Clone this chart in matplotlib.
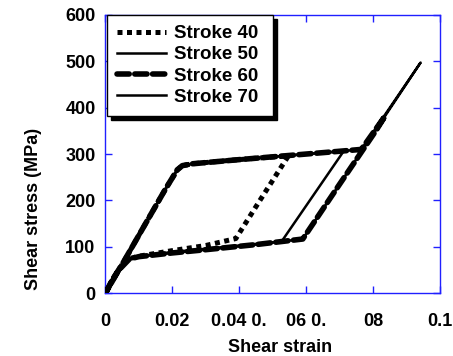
import matplotlib.pyplot as plt
import numpy as np

# shear strain / shear stress (MPa)
strain_40 = [0, 0.002, 0.005, 0.012, 0.018, 0.0215, 0.023, 0.026, 0.035, 0.045, 0.0547,
             0.053, 0.046, 0.039, 0.036, 0.030, 0.020, 0.010, 0.0068, 0.004, 0.002, 0]
stress_40 = [0, 28, 62, 150, 225, 266, 275, 279, 285, 291, 296,
             277, 198, 118, 113, 103, 92, 80, 74, 50, 25, 0]

strain_50 = [0, 0.002, 0.005, 0.012, 0.018, 0.0215, 0.023, 0.026, 0.040, 0.055, 0.0712,
             0.0527, 0.040, 0.030, 0.020, 0.010, 0.0072, 0.004, 0.002, 0]
stress_50 = [0, 28, 62, 150, 225, 266, 275, 279, 288, 297, 306,
             112, 103, 96, 89, 80, 75, 50, 25, 0]

strain_60 = [0, 0.002, 0.005, 0.012, 0.018, 0.0215, 0.023, 0.026, 0.040, 0.055, 0.070,
             0.0765, 0.0836, 0.081, 0.070, 0.059, 0.045, 0.030, 0.020, 0.010, 0.0072,
             0.004, 0.002, 0]
stress_60 = [0, 28, 62, 150, 225, 266, 275, 279, 288, 297, 306,
             310, 382, 352, 235, 117, 105, 94, 87, 79, 74, 50, 25, 0]

strain_70 = [0, 0.002, 0.005, 0.012, 0.018, 0.0215, 0.023, 0.026, 0.040, 0.055, 0.070,
             0.0765, 0.0942, 0.0836, 0.070, 0.059, 0.045, 0.030, 0.020, 0.010, 0.0072,
             0.004, 0.002, 0]
stress_70 = [0, 28, 62, 150, 225, 266, 275, 279, 288, 297, 306,
             310, 497, 382, 235, 117, 105, 94, 87, 79, 74, 50, 25, 0]

xtick_pos = [0, 0.02, 0.04, 0.06, 0.08, 0.1]
xtick_labels = ["0", "0.02", "0.04 0.", "06 0.", "08", "0.1"]
ytick_pos = [0, 100, 200, 300, 400, 500, 600]

plt.rcParams["font.family"] = ["Liberation Sans", "DejaVu Sans"]
plt.rcParams["font.weight"] = "bold"

blue = "#2020ff"

fig = plt.figure(figsize=(4.53, 3.56), dpi=100)
ax = fig.add_axes([0.2325, 0.176, 0.7388, 0.7826])

ax.plot(strain_70, stress_70, color="black", lw=1.8, label="Stroke 70", zorder=3)
ax.plot(strain_50, stress_50, color="black", lw=1.8, label="Stroke 50", zorder=3)
ax.plot(strain_40, stress_40, color="black", lw=3.6, solid_capstyle="butt",
        dash_capstyle="butt", linestyle=(0, (1, 0.9)), label="Stroke 40", zorder=4)
ax.plot(strain_60, stress_60, color="black", lw=4.0, dash_capstyle="round",
        linestyle=(0, (2.2, 1.0)), label="Stroke 60", zorder=5)

ax.set_xlim(0, 0.1)
ax.set_ylim(0, 600)
ax.set_xticks(xtick_pos)
ax.set_xticklabels(xtick_labels)
ax.set_yticks(ytick_pos)

for s in ax.spines.values():
    s.set_color(blue)
    s.set_linewidth(1.0)

ax.tick_params(axis="both", direction="in", length=5, width=1, color=blue,
               labelsize=13, top=True, right=True)
ax.tick_params(axis="x", pad=14)
ax.tick_params(axis="y", pad=7)
for lab in ax.get_xticklabels() + ax.get_yticklabels():
    lab.set_fontweight("bold")

ax.set_xlabel("Shear strain", fontsize=13, fontweight="bold")
ax.set_ylabel("Shear stress (MPa)", fontsize=13, fontweight="bold")
ax.xaxis.set_label_coords(0.522, -0.163)
ax.yaxis.set_label_coords(-0.19, 0.304)

handles, labels = ax.get_legend_handles_labels()
order = [2, 1, 3, 0]
leg = ax.legend([handles[i] for i in order], [labels[i] for i in order],
                loc="upper left", bbox_to_anchor=(0.004, 1.0, 0.497, 0.0),
                mode="expand", borderaxespad=0, fancybox=False,
                shadow={"color": "black", "alpha": 1, "ox": 3, "oy": -3},
                edgecolor="black", framealpha=1, fontsize=13.5,
                handlelength=2.6, handletextpad=0.45, labelspacing=0.22,
                borderpad=0.55)
leg.get_frame().set_linewidth(1.0)
for t in leg.get_texts():
    t.set_fontweight("bold")

fig.savefig("out.png", dpi=100)
